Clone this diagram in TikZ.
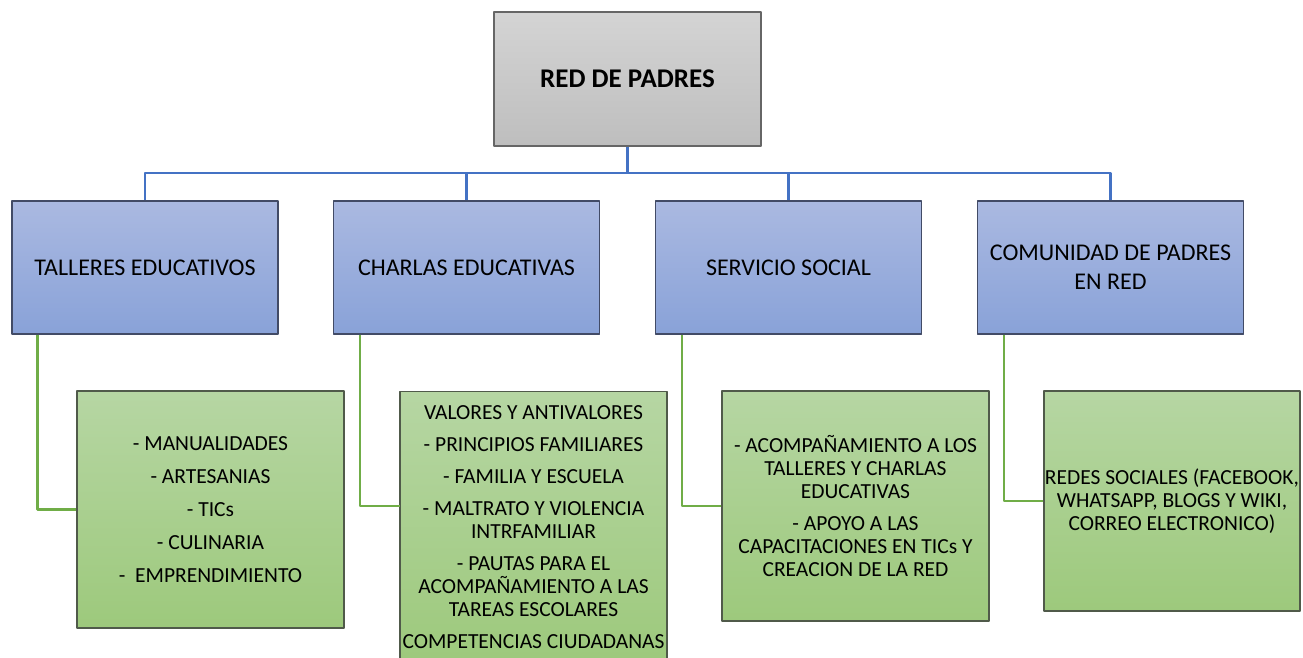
\documentclass[tikz,border=0pt]{standalone}
\usepackage{fontspec}
\setmainfont{Carlito}
\definecolor{graytop}{HTML}{D4D4D4}
\definecolor{graybot}{HTML}{BEBEBE}
\definecolor{bluetop}{HTML}{AAB9E1}
\definecolor{bluebot}{HTML}{89A2D8}
\definecolor{blueedge}{HTML}{424B66}
\definecolor{greentop}{HTML}{B6D6A3}
\definecolor{greenbot}{HTML}{9DC97C}
\definecolor{greenedge}{HTML}{505A4A}
\definecolor{bluelink}{HTML}{4472C4}
\definecolor{greenlink}{HTML}{70AD47}
\begin{document}
\begin{tikzpicture}[x=1pt, y=-1pt, line join=round,
	mainbox/.style={draw=black!60, line width=1.2pt, top color=graytop, bottom color=graybot,
		minimum width=267pt, minimum height=134pt, inner sep=0pt, font=\fontsize{27}{32}\selectfont\bfseries},
	areabox/.style={draw=blueedge, line width=1.2pt, top color=bluetop, bottom color=bluebot,
		minimum width=266pt, minimum height=133pt, inner sep=0pt, align=center, font=\fontsize{24}{29}\selectfont},
	itembox/.style={draw=greenedge, line width=1.2pt, top color=greentop, bottom color=greenbot,
		minimum width=268pt, inner sep=0pt, align=center, font=\fontsize{21.5}{23}\selectfont},
	blueline/.style={draw=bluelink, line width=2.8pt},
	greenline/.style={draw=greenlink, line width=2.5pt}]
		\useasboundingbox (0,0) rectangle (1303,658);
		% top level
		\node[mainbox] (red) at (627.5,79) {RED DE PADRES};
		% second level
		\node[areabox] (talleres) at (145,267.5) {TALLERES EDUCATIVOS};
		\node[areabox] (charlas) at (466.5,267.5) {CHARLAS EDUCATIVAS};
		\node[areabox] (servicio) at (788.5,267.5) {SERVICIO SOCIAL};
		\node[areabox] (comunidad) at (1110.5,267.5) {COMUNIDAD DE PADRES\\EN RED};
		% third level
		\node[itembox, minimum width=267pt, minimum height=237pt] (manual) at (210.5,509.5)
			{- MANUALIDADES\\[10pt] - ARTESANIAS\\[10pt] - TICs\\[10pt] - CULINARIA\\[10pt] -~ EMPRENDIMIENTO};
		\node[itembox, minimum width=267pt, minimum height=270pt, anchor=north] (valores) at (533.5,391)
			{VALORES Y ANTIVALORES\\[9pt] - PRINCIPIOS FAMILIARES\\[9pt] - FAMILIA Y ESCUELA\\[9pt]
			 - MALTRATO Y VIOLENCIA\\ INTRFAMILIAR\\[9pt] - PAUTAS PARA EL\\ ACOMPAÑAMIENTO A LAS\\
			 TAREAS ESCOLARES\\[9pt] COMPETENCIAS CIUDADANAS};
		\node[itembox, minimum width=267pt, minimum height=230pt] (apoyo) at (855.5,506)
			{- ACOMPAÑAMIENTO A LOS\\ TALLERES Y CHARLAS\\ EDUCATIVAS\\[9pt]
			 - APOYO A LAS\\ CAPACITACIONES EN TICs Y\\ CREACION DE LA RED};
		\node[itembox, minimum width=256pt, minimum height=220pt] (redes) at (1172,501)
			{REDES SOCIALES (FACEBOOK,\\ WHATSAPP, BLOGS Y WIKI,\\ CORREO ELECTRONICO)};
		\coordinate (hub) at (627.5,173);
		\coordinate (valoresin) at (400,506);
		% connectors
		\draw[blueline] (red.south) -- (hub);
		\foreach \n in {talleres,charlas,servicio,comunidad}
			\draw[blueline] (hub) -| (\n.north);
		\draw[greenline] ([xshift=26pt]talleres.south west) |- (manual.west);
		\draw[greenline] ([xshift=27pt]charlas.south west) |- (valoresin);
		\draw[greenline] ([xshift=27pt]servicio.south west) |- (apoyo.west);
		\draw[greenline] ([xshift=27pt]comunidad.south west) |- (redes.west);
\end{tikzpicture}
\end{document}
